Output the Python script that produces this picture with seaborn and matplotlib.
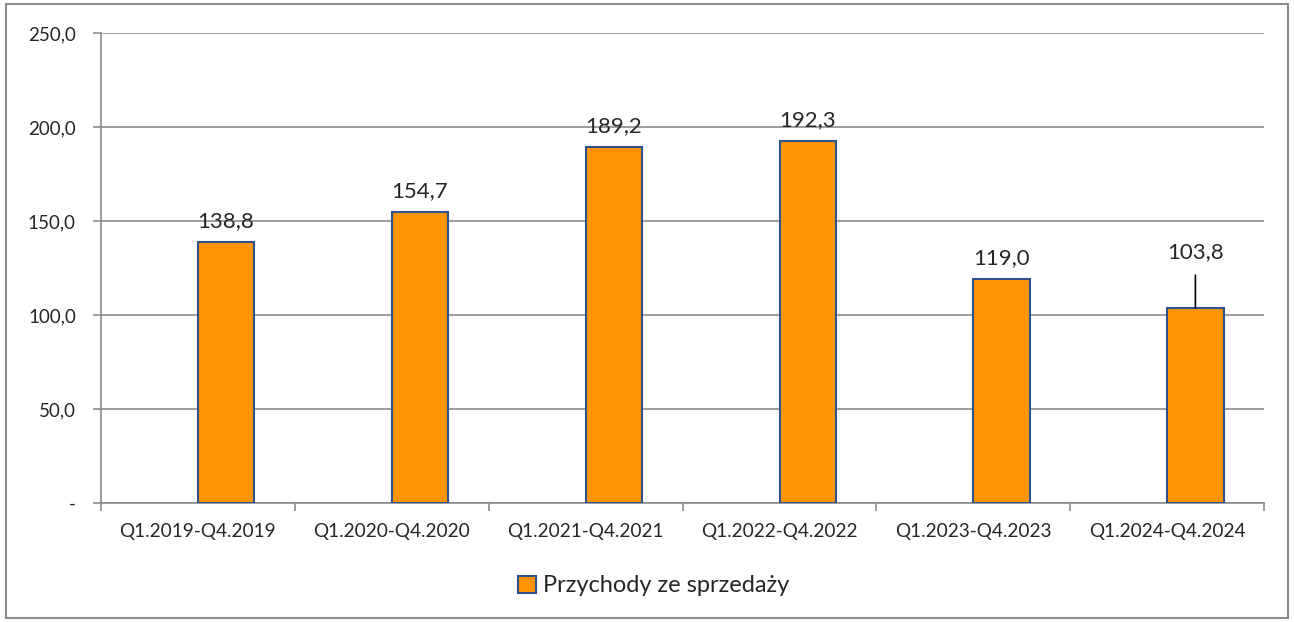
import matplotlib.pyplot as plt
import matplotlib.patches as mpatches
import pandas as pd
import seaborn as sns

periods = ['Q1.2019-Q4.2019', 'Q1.2020-Q4.2020', 'Q1.2021-Q4.2021',
           'Q1.2022-Q4.2022', 'Q1.2023-Q4.2023', 'Q1.2024-Q4.2024']
revenue = [138.8, 154.7, 189.2, 192.3, 119.0, 103.8]
series_name = 'Przychody ze sprzedaży'
y_ticks = [0, 50, 100, 150, 200, 250]

ORANGE = '#FF9405'
EDGE = '#2F528F'
GRID = '#8C8C8C'

sns.set_theme(style='white')
plt.rcParams['font.family'] = ['Lato', 'DejaVu Sans']

df = pd.DataFrame({'period': periods, 'value': revenue, 'series': series_name})

fig = plt.figure(figsize=(12.94, 6.22), dpi=100)
ax = fig.add_axes([0.078, 0.191, 0.899, 0.756])

# empty first hue slot reproduces the Excel offset of the single series
sns.barplot(data=df, x='period', y='value', hue='series',
            hue_order=['', series_name], palette={'': ORANGE, series_name: ORANGE},
            width=0.58, dodge=True, saturation=1, edgecolor=EDGE, linewidth=1.5,
            legend=False, ax=ax, zorder=3)

ax.set_xlim(-0.5, len(periods) - 0.5)
ax.set_ylim(0, 250)
ax.set_yticks(y_ticks)
ax.set_yticklabels(['-' if v == 0 else f'{v:.1f}'.replace('.', ',') for v in y_ticks])
ax.yaxis.grid(True, color=GRID, linewidth=1.2, zorder=0)
ax.set_xlabel('')
ax.set_ylabel('')

ax.set_xticks(range(len(periods)))
ax.set_xticklabels(periods)
ax.set_xticks([i - 0.5 for i in range(len(periods) + 1)], minor=True)
ax.tick_params(axis='x', which='major', length=0, pad=14, labelsize=13.7)
ax.tick_params(axis='x', which='minor', length=6, color=GRID, width=1.2, direction='out')
ax.tick_params(axis='y', length=6, color=GRID, width=1.2, direction='out', pad=12, labelsize=13.5)
ax.tick_params(axis='both', which='both', bottom=True, left=True)

for side in ['top', 'right']:
    ax.spines[side].set_visible(False)
for side in ['left', 'bottom']:
    ax.spines[side].set_color(GRID)
    ax.spines[side].set_linewidth(1.2)

bars = [p for p in ax.patches if p.get_height() > 0]
for i, (bar, val) in enumerate(zip(bars, revenue)):
    label = f'{val:.1f}'.replace('.', ',')
    x = bar.get_x() + bar.get_width() / 2
    if i == len(bars) - 1:
        ax.annotate(label, (x, val), xytext=(0, 33), textcoords='offset points',
                    ha='center', va='bottom', fontsize=16,
                    arrowprops=dict(arrowstyle='-', color='black', lw=1.2,
                                    shrinkA=7, shrinkB=0))
    else:
        ax.annotate(label, (x, val), xytext=(0, 8), textcoords='offset points',
                    ha='center', va='bottom', fontsize=16)

handle = mpatches.Patch(facecolor=ORANGE, edgecolor=EDGE, linewidth=1.5)
fig.legend([handle], [series_name], loc='center', bbox_to_anchor=(0.505, 0.058),
           frameon=False, fontsize=17, handlelength=0.75, handleheight=0.75,
           handletextpad=0.3)

fig.patches.append(mpatches.Rectangle((0.005, 0.006), 0.99, 0.988, transform=fig.transFigure,
                                      fill=False, edgecolor='#8C8C8C', linewidth=1.5))

fig.savefig('out.png', dpi=100)
